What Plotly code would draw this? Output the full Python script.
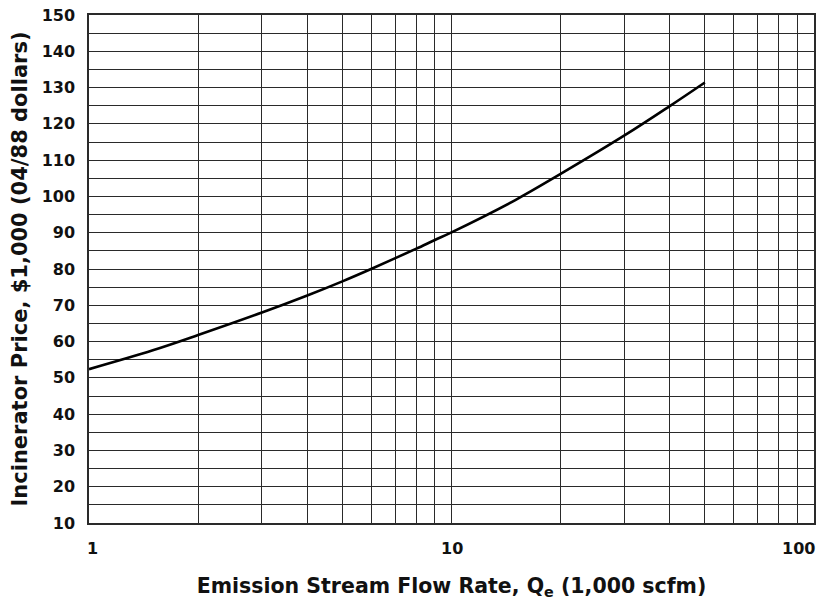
import math
import plotly.graph_objects as go

# Flow rate (1,000 scfm) and price ($1,000, 04/88 dollars)
flow = [1, 1.5, 2, 3, 4, 5, 6, 7, 8, 9, 10, 15, 20, 30, 40, 50]
price = [52.4, 57.6, 61.8, 68, 72.7, 76.6, 80, 83, 85.6, 88, 90.1, 99.0, 106.2, 116.8, 124.9, 131.4]

x_ticks = [1, 10, 100]
x_minor = [2, 3, 4, 5, 6, 7, 8, 9, 20, 30, 40, 50, 60, 70, 80, 90]

font = "DejaVu Sans, sans-serif"
grid_col = "#2a2a2a"

fig = go.Figure()
fig.add_trace(go.Scatter(x=flow, y=price, mode="lines",
                         line=dict(color="black", width=2.6, shape="spline", smoothing=1.0),
                         showlegend=False))

# the page body adds an 8px offset, so the figure is sized to fit the window
fig.update_layout(
    width=825, height=596,
    margin=dict(l=81, r=19, t=7, b=81),
    paper_bgcolor="white", plot_bgcolor="white",
    font=dict(family=font, color="#111"),
)

# x tick labels as annotations: first one left-aligned, last one right-aligned
anchors = ["left", "center", "right"]
shifts = [-4, 0, 3]
for v, a, s in zip(x_ticks, anchors, shifts):
    fig.add_annotation(x=math.log10(v), y=0, xref="x", yref="paper",
                       text="<b>%d</b>" % v, showarrow=False,
                       xanchor=a, yanchor="middle", yshift=-25, xshift=s,
                       font=dict(size=16, family=font, color="#111"))

fig.update_xaxes(
    type="log", range=[0, 2], automargin=False,
    tickvals=x_ticks, showticklabels=False,
    showgrid=True, gridcolor=grid_col, gridwidth=1.2,
    minor=dict(tickvals=x_minor, showgrid=True, gridcolor=grid_col, gridwidth=1.2),
    showline=True, linecolor=grid_col, linewidth=1.5, mirror=True,
    zeroline=False,
    title=dict(text="<b>Emission Stream Flow Rate, Q<sub>e</sub> (1,000 scfm)</b>",
               font=dict(size=20.5, family=font), standoff=55),
)

fig.update_yaxes(
    range=[10, 150], dtick=10, tick0=10, automargin=False,
    tickfont=dict(size=16, family=font, weight="bold"),
    ticklabeloverflow="allow",
    ticks="outside", ticklen=9, tickcolor="rgba(0,0,0,0)",
    showgrid=True, gridcolor=grid_col, gridwidth=1.2,
    minor=dict(dtick=5, tick0=10, showgrid=True, gridcolor=grid_col, gridwidth=1.2),
    showline=True, linecolor=grid_col, linewidth=1.5, mirror=True,
    zeroline=False,
    title=dict(text="<b>Incinerator Price, $1,000 (04/88 dollars)</b>",
               font=dict(size=21, family=font), standoff=12),
)

fig.write_html("out.html")
